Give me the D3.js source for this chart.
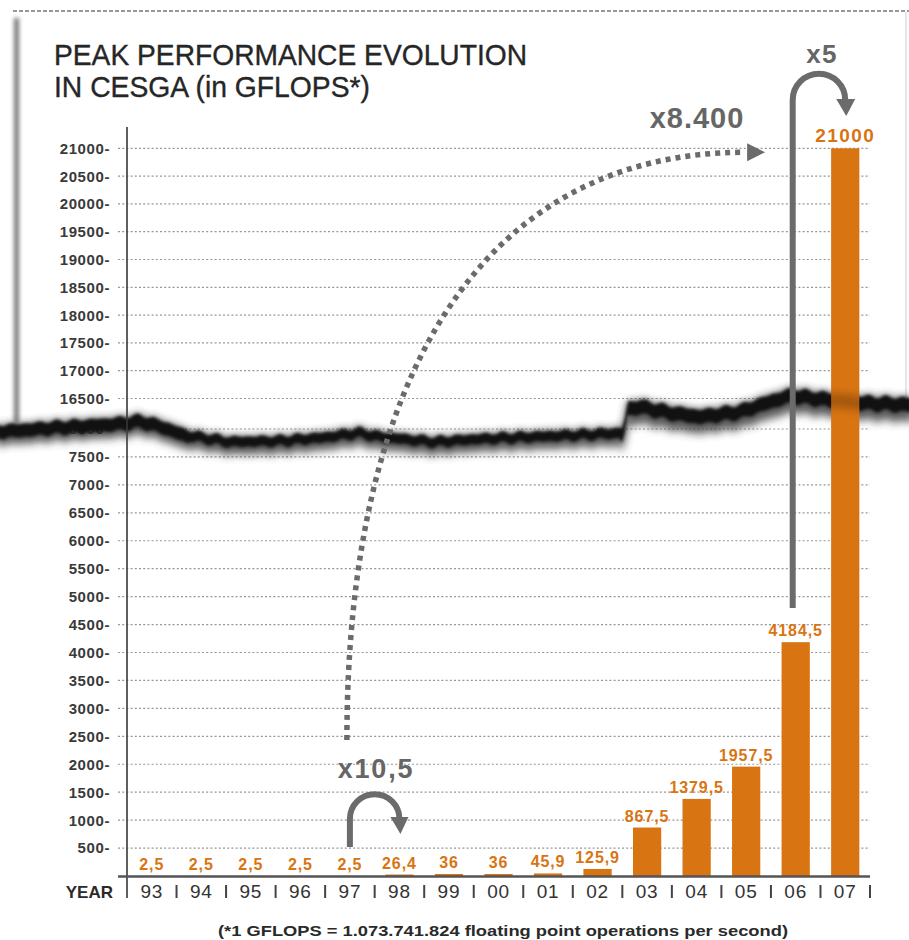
<!DOCTYPE html>
<html>
<head>
<meta charset="utf-8">
<script src="https://cdn.jsdelivr.net/npm/d3@7"></script>
<style>
  body { margin: 0; background: #fff; }
  svg { display: block; font-family: "Liberation Sans", Arial, Helvetica, sans-serif; }
</style>
</head>
<body>
<div id="chart"></div>
<script>
// datos
const years = ["93","94","95","96","97","98","99","00","01","02","03","04","05","06","07"];
const gflops = [2.5,2.5,2.5,2.5,2.5,26.4,36,36,45.9,125.9,867.5,1379.5,1957.5,4184.5,21000];
const valueLabels = ["2,5","2,5","2,5","2,5","2,5","26,4","36","36","45,9","125,9","867,5","1379,5","1957,5","4184,5","21000"];
const lowerTicks = [500,1000,1500,2000,2500,3000,3500,4000,4500,5000,5500,6000,6500,7000,7500,8000];
const upperTicks = [16500,17000,17500,18000,18500,19000,19500,20000,20500,21000];
const titleLines = ["PEAK PERFORMANCE EVOLUTION", "IN CESGA (in GFLOPS*)"];
const footnote = "(*1 GFLOPS = 1.073.741.824 floating point operations per second)";
const growthLabels = ["x10,5", "x8.400", "x5"];

const W = 909, H = 940;
const orange = "#d97412";
const arrowGray = "#6b6b6b";
const textDark = "#333";

const svg = d3.select("#chart").append("svg")
  .attr("width", W)
  .attr("height", H);

const defs = svg.append("defs");
function blurFilter(id, sd) {
  defs.append("filter").attr("id", id)
    .attr("filterUnits", "userSpaceOnUse")
    .attr("x", -20).attr("y", -20).attr("width", W + 40).attr("height", H + 40)
    .append("feGaussianBlur").attr("stdDeviation", sd);
}
blurFilter("blurCore", 1.4);
blurFilter("blurSoft", 4);
blurFilter("blurEdge", 2);

// escalas: eje roto en dos tramos
const x = d3.scaleBand().domain(years).range([127, 870]).paddingInner(0.43).paddingOuter(0.215);
const yLow = d3.scaleLinear().domain([0, 8000]).range([876, 429]);
const yUp = d3.scaleLinear().domain([16500, 21000]).range([398.5, 148.3]);
const yPos = v => v > 8000 ? yUp(v) : yLow(v);

// borde del papel (arriba e izquierda)
svg.append("line")
  .attr("x1", 13).attr("x2", W).attr("y1", 11).attr("y2", 11)
  .attr("stroke", "#777").attr("stroke-width", 1.5).attr("stroke-dasharray", "4,2");
svg.append("rect")
  .attr("x", 14).attr("y", 18).attr("width", 5).attr("height", 405)
  .attr("fill", "#777").attr("filter", "url(#blurEdge)");
svg.append("rect")
  .attr("x", 905).attr("y", 12).attr("width", 2).attr("height", 385)
  .attr("fill", "#e6e6e6");

// titulo
svg.append("g").selectAll("text")
  .data(titleLines)
  .enter()
  .append("text")
  .attr("x", 54)
  .attr("y", (d, i) => 65 + i * 32)
  .attr("textLength", (d, i) => i === 0 ? 473 : 316)
  .attr("lengthAdjust", "spacingAndGlyphs")
  .attr("font-size", "29px")
  .attr("fill", "#262626")
  .attr("stroke", "#262626").attr("stroke-width", 0.35)
  .text(d => d);

// rejilla
const grid = svg.append("g");
function drawGrid(ticks, scale) {
  grid.selectAll(null)
    .data(ticks)
    .enter()
    .append("line")
    .attr("x1", 118).attr("x2", 870)
    .attr("y1", d => scale(d)).attr("y2", d => scale(d))
    .attr("stroke", "#969696").attr("stroke-width", 1.2).attr("stroke-dasharray", "2,2.2");
  grid.selectAll(null)
    .data(ticks)
    .enter()
    .append("text")
    .attr("x", 110)
    .attr("y", d => scale(d))
    .attr("dy", "0.36em")
    .attr("text-anchor", "end")
    .attr("font-size", "15px")
    .attr("font-weight", "bold")
    .attr("letter-spacing", "0.6px")
    .attr("fill", "#3a3a3a")
    .text(d => d + "-");
}
drawGrid(lowerTicks, yLow);

// rotura del papel
const tearKeys = [[0,425],[20,424],[60,421],[100,419],[126,417],[140,415],[160,420],[190,431],[230,437],
  [280,436],[320,433],[359,428],[380,432],[435,437],[480,434],[530,432],[580,430],[623,428],[628,402],
  [640,400],[670,406],[700,410],[740,405],[770,395],[790,389],[820,392],[860,396],[909,398]];
const tearLine = d3.scaleLinear().domain(tearKeys.map(d => d[0])).range(tearKeys.map(d => d[1]));
const tearTop = [];
for (let px = -5; px <= W + 5; px += 3) {
  tearTop.push([px, tearLine(Math.max(0, Math.min(W, px))) + Math.sin(px * 1.7) * 1.1 + Math.sin(px * 0.31) * 0.9]);
}
function bandPath(th) {
  const pts = tearTop.concat(tearTop.slice().reverse().map(d => [d[0], d[1] + th(d[0])]));
  return d3.line()(pts) + "Z";
}
const softPath = bandPath(px => px < 190 ? 20 : px < 620 ? 18 : 24);
const corePath = bandPath(px => px < 190 ? 13 : px < 620 ? 10 : 14);
svg.append("path").attr("d", softPath).attr("fill", "#3a3a3a").attr("opacity", 0.8).attr("filter", "url(#blurSoft)");
svg.append("path").attr("d", corePath).attr("fill", "#161616").attr("filter", "url(#blurCore)");

drawGrid(upperTicks, yUp);

// eje vertical
svg.append("line")
  .attr("x1", 127).attr("x2", 127).attr("y1", 127).attr("y2", 898)
  .attr("stroke", "#444").attr("stroke-width", 1.7);

// barras
svg.append("g").selectAll("rect")
  .data(gflops)
  .enter()
  .append("rect")
  .attr("x", (d, i) => x(years[i]))
  .attr("width", x.bandwidth())
  .attr("y", d => yPos(d))
  .attr("height", d => yLow(0) - yPos(d))
  .attr("fill", orange);

// sombra suave de la rotura sobre las barras
svg.append("path").attr("d", corePath).attr("fill", "#000").attr("opacity", 0.25).attr("filter", "url(#blurSoft)");

svg.append("line")
  .attr("x1", 118).attr("x2", 870).attr("y1", 876.5).attr("y2", 876.5)
  .attr("stroke", "#555").attr("stroke-width", 2.5);

// separadores de años
svg.append("g").selectAll("line")
  .data(years)
  .enter()
  .append("line")
  .attr("x1", d => x(d) + x.bandwidth() / 2 + x.step() / 2)
  .attr("x2", d => x(d) + x.bandwidth() / 2 + x.step() / 2)
  .attr("y1", 885).attr("y2", 898)
  .attr("stroke", "#444").attr("stroke-width", 2);

svg.append("g").selectAll("text")
  .data(years)
  .enter()
  .append("text")
  .attr("x", d => x(d) + x.bandwidth() / 2)
  .attr("y", 898)
  .attr("text-anchor", "middle")
  .attr("font-size", "19px")
  .attr("letter-spacing", "0.8px")
  .attr("fill", textDark)
  .text(d => d);

svg.append("text")
  .attr("x", 113).attr("y", 898)
  .attr("text-anchor", "end")
  .attr("font-size", "17px")
  .attr("font-weight", "bold")
  .attr("fill", "#2a2a2a")
  .text("YEAR");

// etiquetas de valor
svg.append("g").selectAll("text")
  .data(gflops)
  .enter()
  .append("text")
  .attr("x", (d, i) => x(years[i]) + x.bandwidth() / 2)
  .attr("y", d => yPos(d) - 6)
  .attr("text-anchor", "middle")
  .attr("font-size", d => d > 8000 ? "19px" : "16px")
  .attr("font-weight", "bold")
  .attr("letter-spacing", d => d > 8000 ? "1.4px" : "0.9px")
  .attr("fill", orange)
  .text((d, i) => valueLabels[i]);

// nota al pie
svg.append("text")
  .attr("x", 218).attr("y", 936)
  .attr("textLength", 570)
  .attr("lengthAdjust", "spacingAndGlyphs")
  .attr("font-size", "15px")
  .attr("font-weight", "bold")
  .attr("fill", "#2a2a2a")
  .text(footnote);

// flechas de crecimiento
const arrows = svg.append("g").attr("fill", "none").attr("stroke", arrowGray);

// x10,5 (97 -> 98)
const a97 = x("97") + x.bandwidth() / 2, a98 = x("98") + x.bandwidth() / 2;
const r1 = (a98 - a97) / 2;
arrows.append("path")
  .attr("d", `M${a97},847 V819 A${r1},${r1} 0 0 1 ${a98},819 V822`)
  .attr("stroke-width", 6);
svg.append("path")
  .attr("d", `M${a98 - 9},817 L${a98 + 9},817 L${a98 + 1},834 Z`)
  .attr("fill", arrowGray);

// x8.400 (97 -> 07), punteada
const end8400 = x("07") - 86;
arrows.append("path")
  .attr("d", `M${a97 - 3},740 C${a97 - 3},380 480,${yUp(21000) + 4} ${end8400},${yUp(21000) + 4}`)
  .attr("stroke-width", 5.5)
  .attr("stroke-dasharray", "5,5");
svg.append("path")
  .attr("d", `M${end8400 + 2},${yUp(21000) - 5} L${end8400 + 20},${yUp(21000) + 4} L${end8400 + 2},${yUp(21000) + 13} Z`)
  .attr("fill", arrowGray);

// x5 (06 -> 07)
const a06 = x("06") + x.bandwidth() / 2 - 3, a07 = x("07") + x.bandwidth() / 2;
const r2 = (a07 - a06) / 2;
arrows.append("path")
  .attr("d", `M${a06},608 V100 A${r2},${r2} 0 0 1 ${a07},100 V102`)
  .attr("stroke-width", 6);
svg.append("path")
  .attr("d", `M${a07 - 9},99 L${a07 + 10},99 L${a07 + 1},116 Z`)
  .attr("fill", arrowGray);

svg.append("g").selectAll("text")
  .data(growthLabels)
  .enter()
  .append("text")
  .attr("x", (d, i) => [376, 697, 822][i])
  .attr("y", (d, i) => [778, 128, 63][i])
  .attr("text-anchor", "middle")
  .attr("font-size", (d, i) => [27, 29, 26][i] + "px")
  .attr("font-weight", "bold")
  .attr("letter-spacing", (d, i) => [1.8, 1, 1.4][i] + "px")
  .attr("fill", "#666")
  .text(d => d);
</script>
</body>
</html>
